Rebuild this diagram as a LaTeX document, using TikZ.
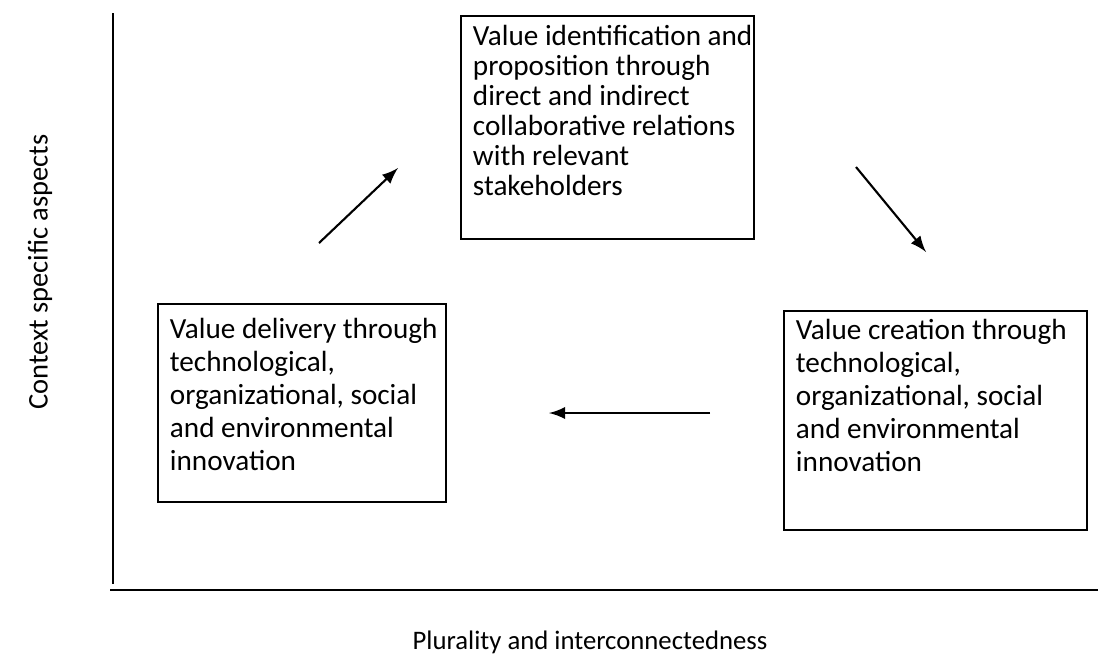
\documentclass[tikz,border=0pt]{standalone}
\usepackage{fontspec}
\setmainfont{Carlito}
\usetikzlibrary{positioning,shapes,arrows}

\newcommand{\boxtext}[4][0pt]{\parbox[c][#3][t]{#2}{\vspace*{#1}\begin{tabular}[t]{@{}l@{}}#4\end{tabular}}}

\begin{document}
\begin{tikzpicture}[x=0.01cm, y=-0.01cm,
	stage/.style={draw, line width=0.55pt, anchor=north west, inner xsep=0.12cm, inner ysep=0.08cm, font=\fontsize{8.3}{8.55}\selectfont},
	widestage/.style={stage, font=\fontsize{8.3}{9.4}\selectfont},
	flow/.style={-latex, line width=0.6pt},
	axis/.style={line width=0.7pt}]
				\useasboundingbox (0,0) rectangle (1098,663);
				% axes
				\coordinate (ytop) at (113,13);
				\coordinate (ybot) at (113,584);
				\coordinate (xleft) at (110,590);
				\coordinate (xright) at (1098,590);
				\draw[axis] (ytop) -- (ybot);
				\draw[axis] (xleft) -- (xright);
				\node[rotate=90, font=\fontsize{8.1}{9}\selectfont] (ylab) at (40,272) {Context specific aspects};
				\node[font=\fontsize{7.6}{9}\selectfont] (xlab) at (590,642) {Plurality and interconnectedness};
				% stages
				\node[stage] (ident) at (460,15) {\boxtext{2.69cm}{2.07cm}{Value identification and\\ proposition through\\ direct and indirect\\ collaborative relations\\ with relevant\\ stakeholders}};
				\node[widestage] (create) at (783,310) {\boxtext[-0.03cm]{2.79cm}{2.03cm}{Value creation through\\ technological,\\ organizational, social\\ and environmental\\ innovation}};
				\node[widestage] (deliver) at (157,303) {\boxtext[0.03cm]{2.64cm}{1.82cm}{Value delivery through\\ technological,\\ organizational, social\\ and environmental\\ innovation}};
				% arrows
				\coordinate (a1s) at (319,243);
				\coordinate (a1e) at (398,168);
				\coordinate (a2s) at (856,167);
				\coordinate (a2e) at (926,252);
				\coordinate (a3s) at (710,413);
				\coordinate (a3e) at (549,413);
				\draw[flow] (a1s) -- (a1e);
				\draw[flow] (a2s) -- (a2e);
				\draw[flow] (a3s) -- (a3e);
			\end{tikzpicture}
\end{document}
